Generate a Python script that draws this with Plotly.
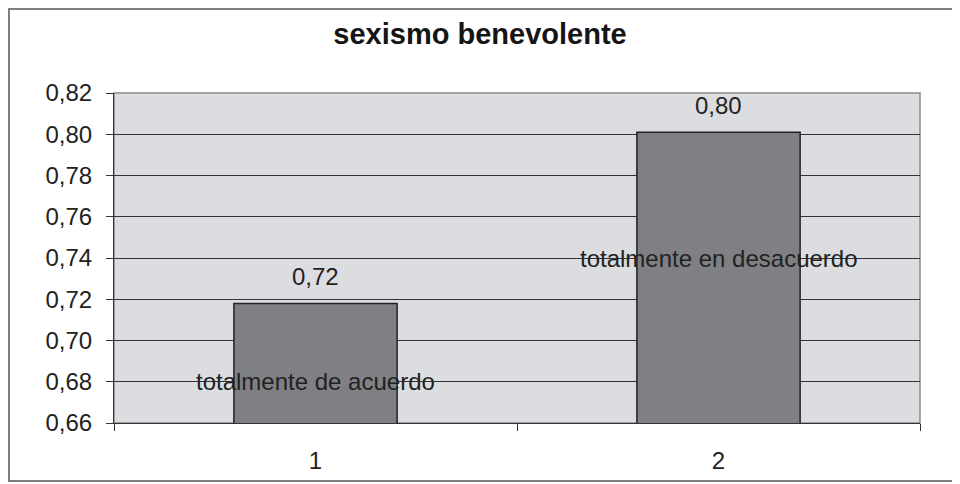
import plotly.graph_objects as go

# data
categories = ["1", "2"]
values = [0.718, 0.801]
value_labels = ["0,72", "0,80"]
bar_names = ["totalmente de acuerdo", "totalmente en desacuerdo"]
name_y = [0.68, 0.74]

font = "Liberation Sans, Arial, sans-serif"

fig = go.Figure()
fig.add_trace(go.Bar(
    x=categories,
    y=values,
    width=0.405,
    marker=dict(color="#7f8084", line=dict(color="#222222", width=1.5)),
    showlegend=False,
))

# value labels above the bars (category index as x)
for i, (v, t) in enumerate(zip(values, value_labels)):
    fig.add_annotation(x=i, y=v, text=t, showarrow=False, yshift=27,
                       font=dict(family=font, size=24, color="#222222"))

# series names drawn over the bars
for i, (y, t) in enumerate(zip(name_y, bar_names)):
    fig.add_annotation(x=i, y=y, text=t, showarrow=False,
                       font=dict(family=font, size=24, color="#222222"))

# plot area border and outer frame
fig.add_shape(type="rect", xref="paper", yref="paper", x0=0, x1=1, y0=0, y1=1,
              line=dict(color="#8a8a8a", width=1.5), layer="below")
fig.add_shape(type="rect", xref="paper", yref="paper",
              x0=-0.1303, x1=1.06, y0=-0.1757, y1=1.2545,
              line=dict(color="#555555", width=1.5))

fig.update_layout(
    width=960, height=484,
    margin=dict(l=106, r=48, t=85, b=69),
    paper_bgcolor="white",
    plot_bgcolor="#dcdde0",
    separators=", ",
    title=dict(text="<b>sexismo benevolente</b>", x=0.4917, xref="container",
               y=0.946, yanchor="middle",
               font=dict(family=font, size=29, color="#151515")),
    font=dict(family=font, size=24, color="#222222"),
    xaxis=dict(type="category", tickson="boundaries", ticks="outside", ticklen=7,
               tickcolor="#333333", showgrid=False, showline=True, linecolor="#333333",
               linewidth=1, ticklabelstandoff=16, range=[-0.5, 1.5]),
    yaxis=dict(range=[0.66, 0.82], dtick=0.02, tickformat=".2f", ticks="outside",
               ticklen=7, tickcolor="#333333", showgrid=True, gridcolor="#333333",
               gridwidth=1, showline=True, linecolor="#333333", linewidth=1,
               zeroline=False, ticklabelstandoff=9),
)

fig.write_html("out.html")
